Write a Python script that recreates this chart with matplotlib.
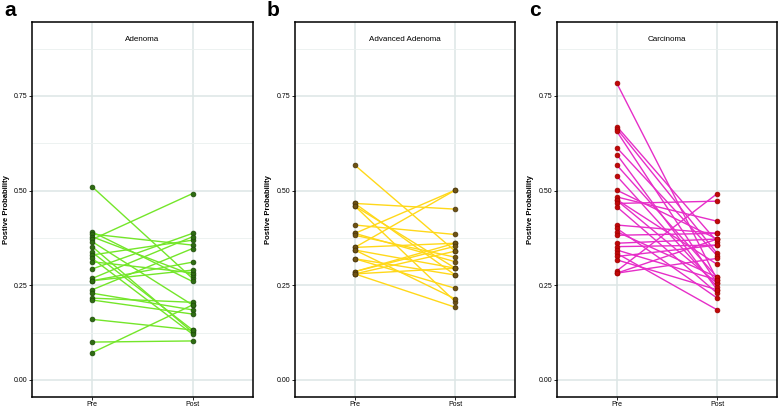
import matplotlib
matplotlib.use("Agg")
import matplotlib.pyplot as plt
from matplotlib.ticker import MultipleLocator

plt.rcParams['font.family'] = ['Liberation Sans', 'DejaVu Sans']

groups = ["Pre", "Post"]
panel_letters = ["a", "b", "c"]
panel_titles = ["Adenoma", "Advanced Adenoma", "Carcinoma"]
y_ticks = [0.00, 0.25, 0.50, 0.75]
y_label = "Postive Probability"

adenoma_pre = [0.510, 0.391, 0.385, 0.378, 0.371, 0.365, 0.352, 0.337, 0.330,
               0.321, 0.312, 0.293, 0.268, 0.262, 0.262, 0.238, 0.229, 0.216,
               0.211, 0.160, 0.100, 0.072]
adenoma_post = [0.268, 0.260, 0.356, 0.277, 0.492, 0.198, 0.126, 0.132, 0.369,
                0.121, 0.283, 0.387, 0.378, 0.311, 0.290, 0.347, 0.185, 0.205,
                0.174, 0.132, 0.103, 0.198]

adv_pre = [0.567, 0.466, 0.466, 0.459, 0.459, 0.409, 0.387, 0.387, 0.382, 0.350,
           0.350, 0.343, 0.343, 0.320, 0.320, 0.286, 0.286, 0.280, 0.280, 0.280]
adv_post = [0.340, 0.451, 0.277, 0.207, 0.295, 0.384, 0.501, 0.312, 0.324, 0.501,
            0.361, 0.214, 0.295, 0.277, 0.242, 0.361, 0.353, 0.192, 0.340, 0.295]

carc_pre = [0.783, 0.669, 0.663, 0.656, 0.613, 0.595, 0.567, 0.538, 0.501, 0.483,
            0.476, 0.474, 0.466, 0.457, 0.409, 0.400, 0.391, 0.382, 0.361, 0.352,
            0.343, 0.334, 0.326, 0.317, 0.288, 0.282, 0.282]
carc_post = [0.264, 0.365, 0.334, 0.255, 0.328, 0.238, 0.271, 0.246, 0.372, 0.419,
             0.305, 0.255, 0.472, 0.229, 0.387, 0.216, 0.271, 0.387, 0.372, 0.356,
             0.264, 0.185, 0.356, 0.238, 0.492, 0.321, 0.372]

panels = [
    (adenoma_pre, adenoma_post, "#74E62A", "#2E6B12", "#1C4A08"),
    (adv_pre, adv_post, "#FFD81A", "#6E5214", "#4A360A"),
    (carc_pre, carc_post, "#E62EC8", "#C00808", "#A00000"),
]

W, H = 779, 409
fig = plt.figure(figsize=(W / 100, H / 100), dpi=100)
lefts_px = [32, 294.7, 556.7]
ax_w_px = 220.7
top_px, bot_px = 22, 397

for i, (pre, post, lc, mc, me) in enumerate(panels):
    ax = fig.add_axes([lefts_px[i] / W, (H - bot_px) / H, ax_w_px / W, (bot_px - top_px) / H])
    ax.set_facecolor("white")
    for p, q in zip(pre, post):
        ax.plot([1, 2], [p, q], color=lc, lw=1.0, zorder=2, solid_capstyle='round')
    ax.scatter([1] * len(pre), pre, s=12, color=mc, edgecolors=me, linewidths=0.5, zorder=3)
    ax.scatter([2] * len(post), post, s=12, color=mc, edgecolors=me, linewidths=0.5, zorder=3)
    ax.set_xlim(0.4, 2.6)
    ax.set_ylim(-0.045, 0.945)
    ax.set_xticks([1, 2])
    ax.set_xticklabels(groups)
    ax.set_yticks(y_ticks)
    ax.set_yticklabels([f"{v:.2f}" for v in y_ticks])
    ax.yaxis.set_minor_locator(MultipleLocator(0.125))
    ax.tick_params(axis='both', which='major', labelsize=5, length=2.2, width=0.6,
                   color='black', pad=1.0)
    ax.tick_params(axis='y', which='minor', length=0)
    ax.grid(True, which='major', color='#DDE6E5', lw=1.1, zorder=0)
    ax.grid(True, which='minor', axis='y', color='#EAF0EF', lw=0.6, zorder=0)
    ax.set_axisbelow(True)
    for s in ax.spines.values():
        s.set_color("black")
        s.set_linewidth(1.1)
    ax.set_ylabel(y_label, fontsize=5.5, fontweight='bold', labelpad=3)
    ax.text(1.5, 0.9, panel_titles[i], ha='center', va='center', fontsize=5.8)
    fig.text((lefts_px[i] - 28) / W, (H - 11) / H, panel_letters[i], fontsize=15,
             fontweight='bold', ha='left', va='center')

fig.savefig("out.png", dpi=100)
